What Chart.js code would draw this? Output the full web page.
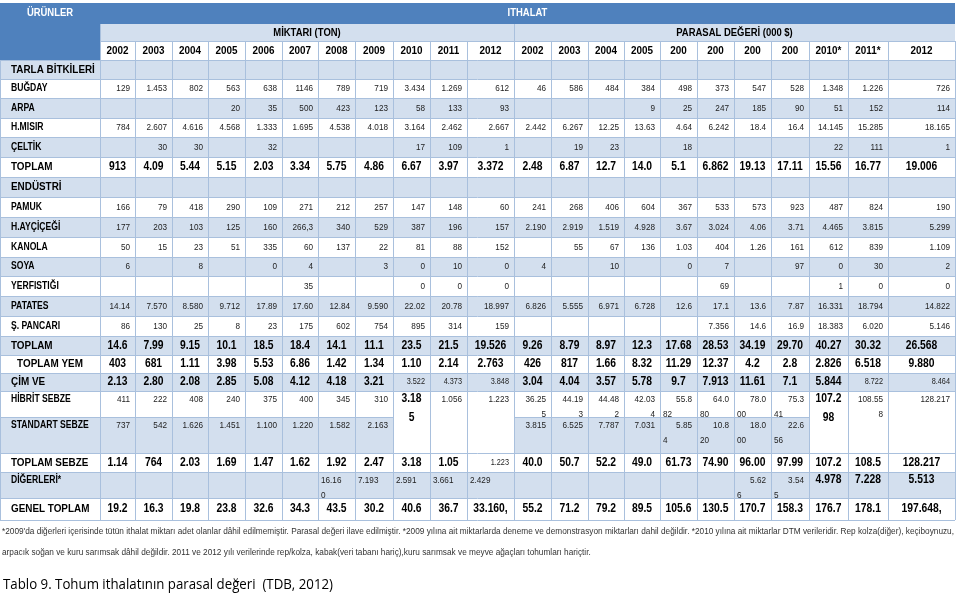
<!DOCTYPE html>
<html>
<head>
<meta charset="utf-8">
<script src="https://cdn.jsdelivr.net/npm/chart.js@4.4.0/dist/chart.umd.min.js"></script>
<style>
  html, body { margin: 0; padding: 0; background: #fff; }
</style>
</head>
<body>
<canvas id="seedTable" width="959" height="595"></canvas>
<script>
const tonYears = ['2002', '2003', '2004', '2005', '2006', '2007', '2008', '2009', '2010', '2011', '2012'];
const valueYears = ['2002', '2003', '2004', '2005', '200', '200', '200', '200', '2010*', '2011*', '2012'];

const rowLabels = ['TARLA BİTKİLERİ', 'BUĞDAY', 'ARPA', 'H.MISIR', 'ÇELTİK', 'TOPLAM', 'ENDÜSTRİ', 'PAMUK',
  'H.AYÇİÇEĞİ', 'KANOLA', 'SOYA', 'YERFISTIĞI', 'PATATES', 'Ş. PANCARI', 'TOPLAM', 'TOPLAM YEM', 'ÇİM VE',
  'HİBRİT SEBZE', 'STANDART SEBZE', 'TOPLAM SEBZE', 'DİĞERLERİ*', 'GENEL TOPLAM'];

// first 11 = miktar (ton), last 11 = parasal değer (000 $)
const bugday = ['129', '1.453', '802', '563', '638', '1146', '789', '719', '3.434', '1.269', '612',
  '46', '586', '484', '384', '498', '373', '547', '528', '1.348', '1.226', '726'];
const arpa = ['', '', '', '20', '35', '500', '423', '123', '58', '133', '93',
  '', '', '', '9', '25', '247', '185', '90', '51', '152', '114'];
const misir = ['784', '2.607', '4.616', '4.568', '1.333', '1.695', '4.538', '4.018', '3.164', '2.462', '2.667',
  '2.442', '6.267', '12.25', '13.63', '4.64', '6.242', '18.4', '16.4', '14.145', '15.285', '18.165'];
const celtik = ['', '30', '30', '', '32', '', '', '', '17', '109', '1',
  '', '19', '23', '', '18', '', '', '', '22', '111', '1'];
const toplamTarla = ['913', '4.09', '5.44', '5.15', '2.03', '3.34', '5.75', '4.86', '6.67', '3.97', '3.372',
  '2.48', '6.87', '12.7', '14.0', '5.1', '6.862', '19.13', '17.11', '15.56', '16.77', '19.006'];
const pamuk = ['166', '79', '418', '290', '109', '271', '212', '257', '147', '148', '60',
  '241', '268', '406', '604', '367', '533', '573', '923', '487', '824', '190'];
const aycicegi = ['177', '203', '103', '125', '160', '266,3', '340', '529', '387', '196', '157',
  '2.190', '2.919', '1.519', '4.928', '3.67', '3.024', '4.06', '3.71', '4.465', '3.815', '5.299'];
const kanola = ['50', '15', '23', '51', '335', '60', '137', '22', '81', '88', '152',
  '', '55', '67', '136', '1.03', '404', '1.26', '161', '612', '839', '1.109'];
const soya = ['6', '', '8', '', '0', '4', '', '3', '0', '10', '0',
  '4', '', '10', '', '0', '7', '', '97', '0', '30', '2'];
const yerfistigi = ['', '', '', '', '', '35', '', '', '0', '0', '0',
  '', '', '', '', '', '69', '', '', '1', '0', '0'];
const patates = ['14.14', '7.570', '8.580', '9.712', '17.89', '17.60', '12.84', '9.590', '22.02', '20.78', '18.997',
  '6.826', '5.555', '6.971', '6.728', '12.6', '17.1', '13.6', '7.87', '16.331', '18.794', '14.822'];
const pancar = ['86', '130', '25', '8', '23', '175', '602', '754', '895', '314', '159',
  '', '', '', '', '', '7.356', '14.6', '16.9', '18.383', '6.020', '5.146'];
const toplamEndustri = ['14.6', '7.99', '9.15', '10.1', '18.5', '18.4', '14.1', '11.1', '23.5', '21.5', '19.526',
  '9.26', '8.79', '8.97', '12.3', '17.68', '28.53', '34.19', '29.70', '40.27', '30.32', '26.568'];
const toplamYem = ['403', '681', '1.11', '3.98', '5.53', '6.86', '1.42', '1.34', '1.10', '2.14', '2.763',
  '426', '817', '1.66', '8.32', '11.29', '12.37', '4.2', '2.8', '2.826', '6.518', '9.880'];
const cimVe = ['2.13', '2.80', '2.08', '2.85', '5.08', '4.12', '4.18', '3.21', '3.522', '4.373', '3.848',
  '3.04', '4.04', '3.57', '5.78', '9.7', '7.913', '11.61', '7.1', '5.844', '8.722', '8.464'];
const hibrit = ['411', '222', '408', '240', '375', '400', '345', '310', '3.18\n5', '1.056', '1.223',
  '36.25\n5', '44.19\n3', '44.48\n2', '42.03\n4', '55.8\n82', '64.0\n80', '78.0\n00', '75.3\n41', '107.2\n98', '108.55\n8', '128.217'];
const standart = ['737', '542', '1.626', '1.451', '1.100', '1.220', '1.582', '2.163', '', '', '',
  '3.815', '6.525', '7.787', '7.031', '5.85\n4', '10.8\n20', '18.0\n00', '22.6\n56', '', '', ''];
const toplamSebze = ['1.14', '764', '2.03', '1.69', '1.47', '1.62', '1.92', '2.47', '3.18', '1.05', '1.223',
  '40.0', '50.7', '52.2', '49.0', '61.73', '74.90', '96.00', '97.99', '107.2', '108.5', '128.217'];
const digerleri = ['', '', '', '', '', '', '16.16\n0', '7.193', '2.591', '3.661', '2.429',
  '', '', '', '', '', '', '5.62\n6', '3.54\n5', '4.978', '7.228', '5.513'];
const genelToplam = ['19.2', '16.3', '19.8', '23.8', '32.6', '34.3', '43.5', '30.2', '40.6', '36.7', '33.160,',
  '55.2', '71.2', '79.2', '89.5', '105.6', '130.5', '170.7', '158.3', '176.7', '178.1', '197.648,'];

const rowValues = [[], bugday, arpa, misir, celtik, toplamTarla, [], pamuk, aycicegi, kanola, soya, yerfistigi,
  patates, pancar, toplamEndustri, toplamYem, cimVe, hibrit, standart, toplamSebze, digerleri, genelToplam];

const footnotes = [
  "*2009'da diğerleri içerisinde tütün ithalat miktarı adet olanlar dâhil edilmemiştir. Parasal değeri ilave edilmiştir. *2009 yılına ait miktarlarda deneme ve demonstrasyon miktarları dahil değildir. *2010 yılına ait miktarlar DTM verileridir. Rep kolza(diğer), keçiboynuzu,",
  'arpacık soğan ve kuru sarımsak dâhil değildir. 2011 ve 2012 yılı verilerinde rep/kolza, kabak(veri tabanı hariç),kuru sarımsak ve meyve ağaçları tohumları hariçtir.'
];
const caption = 'Tablo 9. Tohum ithalatının parasal değeri  (TDB, 2012)';

// --- layout / style ---
const colEdges = [0, 100, 135, 172, 208, 245, 282, 318, 355, 393, 430, 467, 514, 551, 588, 624, 660, 697, 734, 771, 809, 848, 888, 955];
const headEdges = [3, 24, 41, 60];
const rowEdges = [60, 79, 98, 118, 137, 157, 177, 197, 217, 237, 257, 276, 296, 316, 336, 355, 373, 391, 417, 453, 472, 498, 520];
const sectionRows = [0, 6];
const totalRows = [5, 14, 15, 16, 19, 21];
const topAlignRows = [17, 18, 20];
const smallCells = ['16:8', '16:9', '16:10', '16:20', '16:21', '19:10'];
const boldCells = ['17:8', '17:19', '20:19', '20:20', '20:21'];
const mergedCols = [8, 9, 10, 19, 20, 21]; // HİBRİT + STANDART merged
const leftCells = ['20:6', '20:7', '20:8', '20:9', '20:10'];

const DARK = '#4f81bd';
const BAND = '#d3dfee';
const GRID = '#a9c0dd';
const FONT = '"Liberation Sans", Arial, sans-serif';

function put(ctx, text, px, py, align, font, color, sx) {
  ctx.save();
  ctx.font = font;
  ctx.fillStyle = color;
  ctx.textBaseline = 'middle';
  ctx.textAlign = align;
  ctx.translate(px, py);
  ctx.scale(sx, 1);
  ctx.fillText(text, 0, 0);
  ctx.restore();
}

const tablePlugin = {
  id: 'seedTable',
  afterDraw(chart) {
    const { ctx, scales: { x, y } } = chart;
    const X = (v) => x.getPixelForValue(v);
    const Y = (v) => y.getPixelForValue(v);
    const left = X(colEdges[0]);
    const right = X(colEdges[colEdges.length - 1]);

    ctx.save();
    // header blocks
    ctx.fillStyle = DARK;
    ctx.fillRect(left, Y(headEdges[0]), right - left, Y(headEdges[1]) - Y(headEdges[0]));
    ctx.fillRect(left, Y(headEdges[0]), X(colEdges[1]) - left, Y(headEdges[3]) - Y(headEdges[0]));
    ctx.fillStyle = BAND;
    ctx.fillRect(X(colEdges[1]), Y(headEdges[1]), right - X(colEdges[1]), Y(headEdges[2]) - Y(headEdges[1]));

    // row bands
    rowLabels.forEach((lab, r) => {
      if (r % 2 === 0) {
        ctx.fillStyle = BAND;
        ctx.fillRect(left, Y(rowEdges[r]), right - left, Y(rowEdges[r + 1]) - Y(rowEdges[r]));
      }
    });
    // merged cells stay white
    ctx.fillStyle = '#fff';
    mergedCols.forEach((c) => {
      ctx.fillRect(X(colEdges[c + 1]), Y(rowEdges[17]), X(colEdges[c + 2]) - X(colEdges[c + 1]), Y(rowEdges[19]) - Y(rowEdges[17]));
    });

    // grid
    ctx.strokeStyle = GRID;
    ctx.lineWidth = 1;
    ctx.beginPath();
    const h = (v) => Math.round(v) + 0.5;
    // header row 2 splits
    [1, 12].forEach((c) => {
      ctx.moveTo(h(X(colEdges[c])), Y(headEdges[1]));
      ctx.lineTo(h(X(colEdges[c])), Y(headEdges[2]));
    });
    for (let c = 1; c < colEdges.length; c++) {
      ctx.moveTo(h(X(colEdges[c])), Y(headEdges[2]));
      ctx.lineTo(h(X(colEdges[c])), Y(rowEdges[rowEdges.length - 1]));
    }
    ctx.moveTo(h(left), Y(headEdges[3]));
    ctx.lineTo(h(left), Y(rowEdges[rowEdges.length - 1]));
    rowEdges.forEach((e, i) => {
      const yy = h(Y(e));
      if (i === 18) {
        // skip merged cells
        for (let c = 0; c < colEdges.length - 1; c++) {
          if (mergedCols.includes(c - 1)) continue;
          ctx.moveTo(X(colEdges[c]), yy);
          ctx.lineTo(X(colEdges[c + 1]), yy);
        }
      } else {
        ctx.moveTo(left, yy);
        ctx.lineTo(right, yy);
      }
    });
    ctx.moveTo(X(colEdges[1]), h(Y(headEdges[2])));
    ctx.lineTo(right, h(Y(headEdges[2])));
    ctx.stroke();

    // header text
    const sx = 0.86;
    put(ctx, 'ÜRÜNLER', (left + X(colEdges[1])) / 2, Y(13), 'center', 'bold 11px ' + FONT, '#fff', sx);
    put(ctx, 'ITHALAT', (X(colEdges[1]) + right) / 2, Y(13), 'center', 'bold 11px ' + FONT, '#fff', sx);
    put(ctx, 'MİKTARI (TON)', (X(colEdges[1]) + X(colEdges[12])) / 2, Y(32.5), 'center', 'bold 11px ' + FONT, '#000', sx);
    put(ctx, 'PARASAL DEĞERİ (000 $)', (X(colEdges[12]) + right) / 2, Y(32.5), 'center', 'bold 11px ' + FONT, '#000', sx);
    tonYears.concat(valueYears).forEach((yr, i) => {
      const cx = (X(colEdges[i + 1]) + X(colEdges[i + 2])) / 2;
      put(ctx, yr, cx, Y(50.5), 'center', 'bold 11.5px ' + FONT, '#000', sx);
    });

    // body
    rowLabels.forEach((lab, r) => {
      const top = Y(rowEdges[r]);
      const mid = (Y(rowEdges[r]) + Y(rowEdges[r + 1])) / 2;
      const isTotal = totalRows.includes(r);
      const isTop = topAlignRows.includes(r);
      const ly = isTop ? top + 8 : mid;
      let lfont = 'bold 10px ' + FONT;
      if (sectionRows.includes(r)) lfont = 'bold 11.5px ' + FONT;
      if (isTotal) lfont = 'bold 11.5px ' + FONT;
      if (r === 15) {
        put(ctx, lab, (left + X(colEdges[1])) / 2, ly, 'center', lfont, '#000', sx);
      } else {
        put(ctx, lab, left + 11, ly, 'left', lfont, '#000', sx);
      }

      rowValues[r].forEach((val, c) => {
        if (!val) return;
        const key = r + ':' + c;
        const l = X(colEdges[c + 1]);
        const rr = X(colEdges[c + 2]);
        let bold = isTotal || boldCells.includes(key);
        if (smallCells.includes(key)) bold = false;
        const size = bold ? 12 : (smallCells.includes(key) ? 8.5 : 9.5);
        const font = (bold ? 'bold ' : '') + size + 'px ' + FONT;
        const color = bold ? '#000' : '#222';
        let align = bold ? 'center' : 'right';
        if (leftCells.includes(key)) align = 'left';
        const lines = val.split('\n');
        const lh = bold ? 19 : 15;
        const y0 = (isTop || lines.length > 1) ? top + 8 : mid;
        lines.forEach((txt, k) => {
          let a = align;
          if (k === 1 && c >= 15 && c <= 18) a = 'left';
          const px = a === 'center' ? (l + rr) / 2 : (a === 'right' ? rr - 5 : l + 3);
          put(ctx, txt, px, y0 + k * lh, a, font, color, sx);
        });
      });
    });

    // footnotes
    ctx.font = '9px ' + FONT;
    const fsx = Math.min(1, (right - 3) / ctx.measureText(footnotes[0]).width);
    put(ctx, footnotes[0], 2, Y(532), 'left', '9px ' + FONT, '#333', fsx);
    put(ctx, footnotes[1], 2, Y(553), 'left', '9px ' + FONT, '#333', fsx);
    ctx.font = '15px "Open Sans", sans-serif';
    const csx = 330 / ctx.measureText(caption).width;
    put(ctx, caption, 3, Y(585), 'left', '15px "Open Sans", sans-serif', '#000', csx);
    ctx.restore();
  }
};

new Chart(document.getElementById('seedTable'), {
  type: 'scatter',
  data: { datasets: [{ data: [] }] },
  options: {
    responsive: false,
    animation: false,
    events: [],
    layout: { padding: 0 },
    plugins: { legend: { display: false }, tooltip: { enabled: false } },
    scales: {
      x: { type: 'linear', min: 0, max: 959, display: false },
      y: { type: 'linear', min: 0, max: 595, reverse: true, display: false },
    },
  },
  plugins: [tablePlugin],
});
</script>
</body>
</html>
